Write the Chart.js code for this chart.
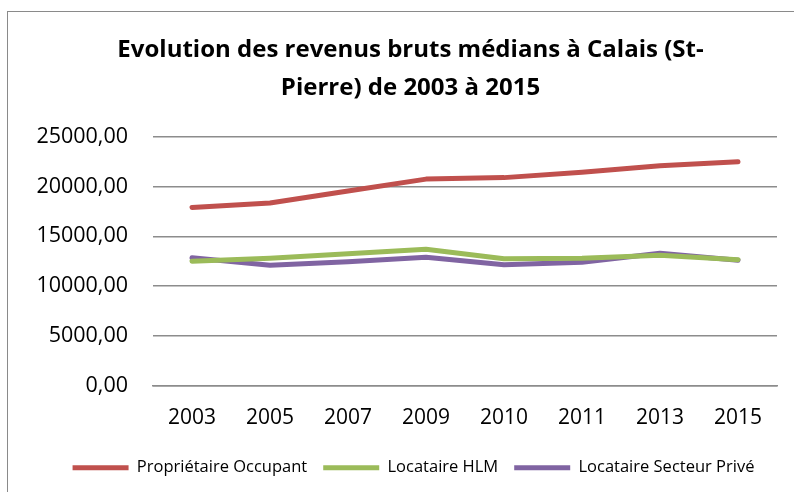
<!DOCTYPE html>
<html lang="fr">
<head>
<meta charset="utf-8">
<title>Revenus bruts médians - Calais (St-Pierre)</title>
<script src="https://cdn.jsdelivr.net/npm/chart.js@4/dist/chart.umd.min.js"></script>
<style>
  html, body { margin: 0; padding: 0; background: #fff; overflow: hidden; }
  #wrap { position: relative; width: 794px; height: 492px; }
  #frame {
    position: absolute; left: 7px; top: 11px; width: 820px; height: 520px;
    border: 1.5px solid #8a8a8a; box-sizing: border-box;
  }
  #myChart { position: absolute; left: 0; top: 0; }
</style>
</head>
<body>
<div id="wrap">
  <div id="frame"></div>
  <canvas id="myChart" width="794" height="492"></canvas>
</div>
<script>
const years = ["2003", "2005", "2007", "2009", "2010", "2011", "2013", "2015"];
const proprietaireOccupant = [17900, 18350, 19550, 20750, 20900, 21450, 22100, 22500];
const locataireHLM = [12500, 12800, 13250, 13700, 12750, 12800, 13100, 12650];
const locataireSecteurPrive = [12850, 12100, 12450, 12900, 12150, 12400, 13300, 12600];
const yTicks = [0, 5000, 10000, 15000, 20000, 25000];

const FONT = '"Open Sans", "Noto Sans", sans-serif';
const gridColor = "#8c8c8c";

// French number format: 25000,00
const frNumber = (v) => v.toFixed(2).replace(".", ",");

function serie(label, data, color) {
  return {
    label: label,
    data: data,
    borderColor: color,
    backgroundColor: color,
    borderWidth: 5,
    pointRadius: 0,
    pointHoverRadius: 0,
    tension: 0,
    borderCapStyle: "round",
    borderJoinStyle: "round",
  };
}

// title and legend sit a little right of the canvas centre
const shiftBlocks = {
  id: "shiftBlocks",
  afterLayout(chart) {
    const t = chart.titleBlock;
    if (t) { t.left += 12; t.right += 12; }
    const l = chart.legend;
    if (l) { l.left += 15; l.right += 15; l.top += 2; l.bottom += 2; }
  },
};

new Chart("myChart", {
  type: "line",
  data: {
    labels: years,
    datasets: [
      serie("Propriétaire Occupant", proprietaireOccupant, "#c0504d"),
      serie("Locataire HLM", locataireHLM, "#9bbb59"),
      serie("Locataire Secteur Privé", locataireSecteurPrive, "#8064a2"),
    ],
  },
  options: {
    responsive: false,
    animation: false,
    layout: { padding: { left: 20, right: 17, top: 0, bottom: 8 } },
    plugins: {
      title: {
        display: true,
        text: ["Evolution des revenus bruts médians à Calais (St-", "Pierre) de 2003 à 2015"],
        color: "#000",
        font: { family: FONT, size: 24, weight: "bold", lineHeight: 1.58 },
        padding: { top: 31, bottom: 30 },
      },
      legend: {
        position: "bottom",
        labels: {
          color: "#000",
          font: { family: FONT, size: 16.5 },
          boxWidth: 56,
          boxHeight: 5,
          useBorderRadius: true,
          borderRadius: 2.5,
          padding: 16,
          generateLabels: (chart) =>
            chart.data.datasets.map((ds, i) => ({
              text: ds.label,
              fillStyle: ds.borderColor,
              strokeStyle: ds.borderColor,
              lineWidth: 0,
              fontColor: "#000",
              datasetIndex: i,
            })),
        },
      },
      tooltip: { enabled: false },
    },
    scales: {
      x: {
        offset: true,
        grid: { display: false, drawTicks: false },
        border: { display: true, color: gridColor, width: 1.5 },
        ticks: { color: "#000", font: { family: FONT, size: 21 }, padding: 20, maxRotation: 0 },
        afterFit: (scale) => { scale.height = 56; },
      },
      y: {
        min: 0,
        max: 25000,
        afterBuildTicks: (scale) => { scale.ticks = yTicks.map((v) => ({ value: v })); },
        grid: { color: gridColor, lineWidth: 1.5, drawTicks: false },
        border: { display: false },
        ticks: {
          color: "#000",
          font: { family: FONT, size: 21.5 },
          padding: 25,
          callback: (v) => frNumber(v),
        },
        afterFit: (scale) => { scale.width = 133; },
      },
    },
  },
  plugins: [shiftBlocks],
});
</script>
</body>
</html>
